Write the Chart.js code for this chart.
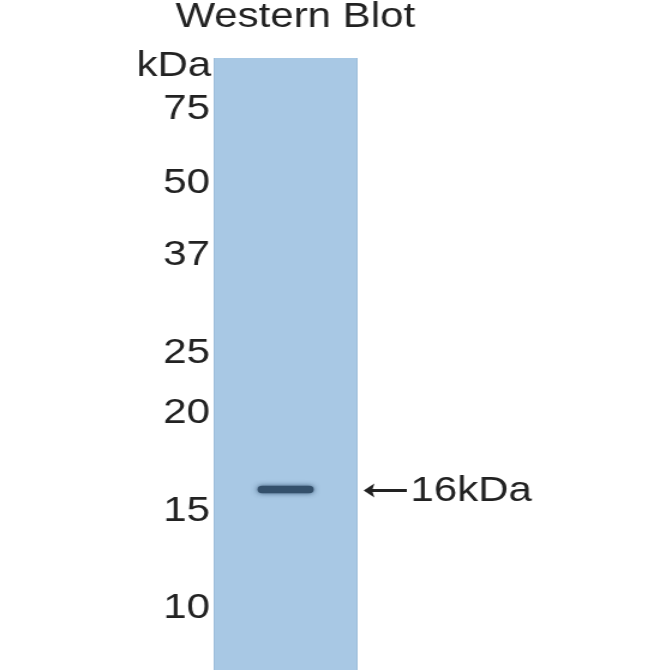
<!DOCTYPE html>
<html>
<head>
<meta charset="utf-8">
<script src="https://cdn.jsdelivr.net/npm/chart.js@4.4.1/dist/chart.umd.min.js"></script>
<style>
	html, body { margin: 0; padding: 0; background: #fff; overflow: hidden; }
	/* the reference picture is stretched sideways, so the chart is drawn narrow and scaled */
	#wrap { width: 558px; height: 670px; transform: scaleX(1.2); transform-origin: 0 0; }
</style>
</head>
<body>
<div id="wrap"><canvas id="blotChart"></canvas></div>
<script>
// marker ladder: label and relative mobility (0 = top of lane, 1 = bottom)
var markerLabels = ["75", "50", "37", "25", "20", "15", "10"];
var markerRf = [0.084, 0.204, 0.323, 0.483, 0.581, 0.740, 0.900];
// the one band seen in the lane
var bandLabel = "16kDa";
var bandRf = [0.699, 0.711];
var lanes = ["Lane 1"];

var txtColor = '#222222';
var txtFont = '"Liberation Sans", Arial, sans-serif';

// soft edge on the band
var bandGlow = {
	id : 'bandGlow',
	beforeDatasetDraw : function(chart, args) {
		if (args.meta.label === 'band') {
			chart.ctx.save();
			chart.ctx.shadowColor = 'rgba(35,65,95,0.8)';
			chart.ctx.shadowBlur = 5;
		}
	},
	afterDatasetDraw : function(chart, args) {
		if (args.meta.label === 'band') chart.ctx.restore();
	}
};

// title, kDa header, arrow and band label
var blotText = {
	id : 'blotText',
	afterDraw : function(chart) {
		var ctx = chart.ctx;
		var area = chart.chartArea;
		var y = chart.scales.y;
		ctx.save();
		ctx.fillStyle = txtColor;
		ctx.strokeStyle = txtColor;
		ctx.font = '35px ' + txtFont;
		ctx.textBaseline = 'middle';

		ctx.textAlign = 'center';
		ctx.fillText('Western Blot', (area.left + area.right) / 2 + 8, 17);

		ctx.textAlign = 'right';
		ctx.fillText('kDa', area.left - 2, area.top + 8);

		// arrow pointing at the band
		var by = y.getPixelForValue((bandRf[0] + bandRf[1]) / 2) + 1;
		var x0 = area.right + 5, x1 = area.right + 41;
		ctx.lineWidth = 3;
		ctx.beginPath();
		ctx.moveTo(x0 + 3, by);
		ctx.lineTo(x1, by);
		ctx.stroke();
		ctx.beginPath();
		ctx.moveTo(x0, by);
		ctx.lineTo(x0 + 9, by - 7);
		ctx.lineTo(x0 + 7, by);
		ctx.lineTo(x0 + 9, by + 7);
		ctx.closePath();
		ctx.fill();

		ctx.textAlign = 'left';
		ctx.fillText(bandLabel, x1 + 3, by + 1);
		ctx.restore();
	}
};

var ctxB = document.getElementById("blotChart").getContext('2d');
var blotChart = new Chart(ctxB, {
	type : 'bar',
	data : {
		labels : lanes,
		datasets : [ {
			label : 'lane',
			data : [ [ 0, 1 ] ],
			backgroundColor : '#a8c8e4',
			borderColor : '#99b9d7',
			borderWidth : { left : 1, right : 1, top : 0, bottom : 0 },
			borderSkipped : false,
			barPercentage : 1,
			categoryPercentage : 1,
			grouped : false,
			order : 2
		}, {
			label : 'band',
			data : [ bandRf ],
			backgroundColor : '#34506b',
			borderRadius : 4,
			borderSkipped : false,
			barPercentage : 0.39,
			categoryPercentage : 1,
			grouped : false,
			order : 1
		} ]
	},
	options : {
		responsive : true,
		maintainAspectRatio : false,
		animation : false,
		layout : { padding : { top : 58, bottom : 0, left : 0, right : 260 } },
		plugins : {
			legend : { display : false },
			tooltip : { enabled : false },
			title : { display : false }
		},
		scales : {
			x : { display : false },
			y : {
				reverse : true,
				min : 0,
				max : 1,
				border : { display : false },
				grid : { display : false, drawTicks : false },
				afterFit : function(scale) {
					scale.width = 178;
					scale.paddingTop = 0;
					scale.paddingBottom = 0;
				},
				afterBuildTicks : function(scale) {
					scale.ticks = markerRf.map(function(v) { return { value : v }; });
				},
				ticks : {
					autoSkip : false,
					padding : 3,
					color : txtColor,
					font : { family : txtFont, size : 35 },
					callback : function(value) {
						var i = markerRf.indexOf(value);
						return i >= 0 ? markerLabels[i] : '';
					}
				}
			}
		}
	},
	plugins : [ bandGlow, blotText ]
});
</script>
</body>
</html>
